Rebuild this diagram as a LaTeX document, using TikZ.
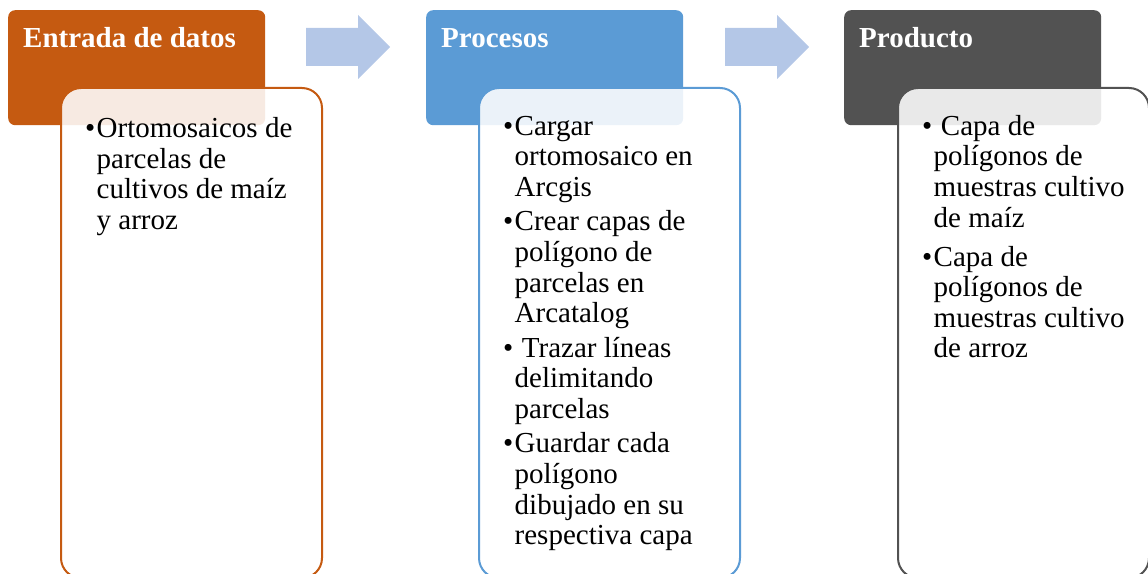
\documentclass[tikz,border=0pt]{standalone}
\usepackage{fontspec}
\setmainfont{Liberation Serif}
\usepackage{xcolor}
\definecolor{headBgColorA}{HTML}{C55A11}
\definecolor{headBgColorB}{HTML}{5B9BD5}
\definecolor{headBgColorC}{HTML}{525252}
\definecolor{bodyLineColorA}{HTML}{C55A11}
\definecolor{bodyLineColorB}{HTML}{5B9BD5}
\definecolor{bodyLineColorC}{HTML}{525252}
\definecolor{arrowColor}{HTML}{B4C7E7}
\def\headA{Entrada de datos}
\def\headB{Procesos}
\def\headC{Producto}
\newcommand{\bul}{\makebox[11.5bp][l]{\textbullet}}
\newcommand{\ind}{\hspace*{11.5bp}}

\tikzset{
  headbox/.style={rectangle, rounded corners=7bp, inner sep=0pt,
    minimum width=257bp, minimum height=115bp, anchor=north west},
  bodybox/.style={rectangle, rounded corners=20bp, line width=2bp,
    fill=white, fill opacity=0.88, inner sep=0pt,
    minimum width=261bp, minimum height=490bp, anchor=north west},
  headtext/.style={text=white, inner sep=0pt, anchor=base west,
    font=\fontsize{29bp}{30bp}\selectfont\bfseries},
  bodytext/.style={inner sep=0pt, align=left, anchor=north west,
    font=\fontsize{29bp}{30.6bp}\selectfont},
  arrowfill/.style={fill=arrowColor}
}

\begin{document}
\begin{tikzpicture}[x=1bp,y=-1bp]
\useasboundingbox (0, 0) rectangle (1148, 574);

% arrow layer
\begin{scope}
\coordinate (arrowAB) at (306, 47);
\fill[arrowfill] (arrowAB) ++(0, -19) -- ++(52, 0) -- ++(0, -13)
  -- ++(32, 32) -- ++(-32, 32) -- ++(0, -13) -- ++(-52, 0) -- cycle;
\coordinate (arrowBC) at (725, 47);
\fill[arrowfill] (arrowBC) ++(0, -19) -- ++(52, 0) -- ++(0, -13)
  -- ++(32, 32) -- ++(-32, 32) -- ++(0, -13) -- ++(-52, 0) -- cycle;
\end{scope}

% first column
\begin{scope}[shift={(8, 10)}]
\node[headbox, fill=headBgColorA] (headA) at (0, 0) {};
\node[bodybox, draw=bodyLineColorA] (bodyA) at (52, 77) {};
\node[headtext] (headTextA) at (15, 38) {\headA};
\node[bodytext] (bodyTextA) at (77, 106) {\strut\bul Ortomosaicos de\\
\ind parcelas de\\
\ind cultivos de maíz\\
\ind y arroz};
\end{scope}

% second column
\begin{scope}[shift={(426, 10)}]
\node[headbox, fill=headBgColorB] (headB) at (0, 0) {};
\node[bodybox, draw=bodyLineColorB] (bodyB) at (52, 77) {};
\node[headtext] (headTextB) at (15, 38) {\headB};
\node[bodytext] (bodyTextB) at (77, 103.6) {\strut\bul Cargar\\
\ind ortomosaico en\\
\ind Arcgis\\[3.9bp]
\bul Crear capas de\\
\ind polígono de\\
\ind parcelas en\\
\ind Arcatalog\\[3.9bp]
\bul\ Trazar líneas\\
\ind delimitando\\
\ind parcelas\\[3.9bp]
\bul Guardar cada\\
\ind polígono\\
\ind dibujado en su\\
\ind respectiva capa};
\end{scope}

% third column
\begin{scope}[shift={(844, 10)}]
\node[headbox, fill=headBgColorC] (headC) at (0, 0) {};
\node[bodybox, draw=bodyLineColorC, minimum width=251bp] (bodyC) at (53, 77) {};
\node[headtext] (headTextC) at (15, 38) {\headC};
\node[bodytext] (bodyTextC) at (78, 103.6) {\strut\bul\ Capa de\\
\ind polígonos de\\
\ind muestras cultivo\\
\ind de maíz\\[8.5bp]
\bul Capa de\\
\ind polígonos de\\
\ind muestras cultivo\\
\ind de arroz};
\end{scope}

\end{tikzpicture}
\end{document}
